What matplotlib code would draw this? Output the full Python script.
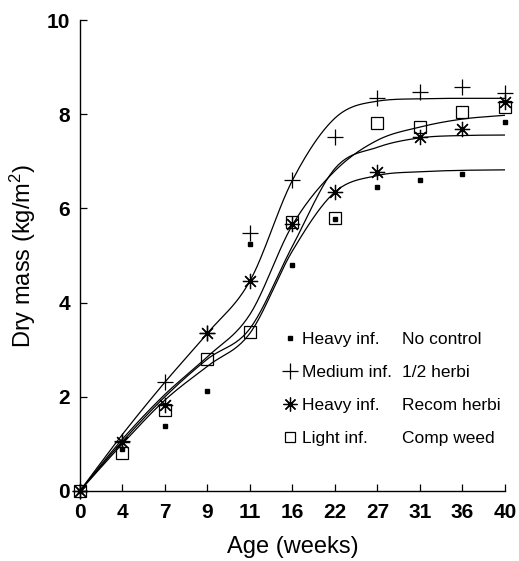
import numpy as np
import matplotlib
matplotlib.use('Agg')
import matplotlib.pyplot as plt
from matplotlib.lines import Line2D

plt.rcParams['font.family'] = ['Liberation Sans', 'DejaVu Sans']
plt.rcParams['mathtext.fontset'] = 'custom'
plt.rcParams['mathtext.rm'] = 'Liberation Sans'
plt.rcParams['mathtext.it'] = 'Liberation Sans:italic'

# sampling ages (weeks) -- plotted on an evenly spaced category axis
ages = [0, 4, 7, 9, 11, 16, 22, 27, 31, 36, 40]

# observed dry mass (kg/m2)
no_control = [0.0, 0.9, 1.38, 2.12, 5.24, 4.79, 5.77, 6.45, 6.60, 6.73, 7.83]
half_herbi = [0.0, 1.05, 2.31, 3.35, 5.48, 6.60, 7.52, 8.34, 8.47, 8.58, 8.45]
recom_herbi = [0.0, 1.04, 1.82, 3.35, 4.46, 5.67, 6.35, 6.77, 7.52, 7.68, 8.26]
comp_weed = [0.0, 0.80, 1.72, 2.80, 3.38, 5.71, 5.80, 7.82, 7.73, 8.05, 8.16]

# fitted growth curves evaluated at each sampling age
fit_no_control = [0.0, 1.0, 1.93, 2.65, 3.35, 5.10, 6.35, 6.70, 6.78, 6.81, 6.82]
fit_half_herbi = [0.0, 1.2, 2.31, 3.35, 4.46, 6.60, 7.92, 8.28, 8.33, 8.34, 8.34]
fit_recom_herbi = [0.0, 1.05, 2.0, 2.80, 3.45, 5.20, 6.85, 7.30, 7.50, 7.55, 7.56]
fit_comp_weed = [0.0, 1.1, 2.05, 2.85, 3.75, 5.65, 6.80, 7.45, 7.73, 7.90, 7.98]

col1 = ['Heavy inf.', 'Medium inf.', 'Heavy inf.', 'Light inf.']
col2 = ['No control', '1/2 herbi', 'Recom herbi', 'Comp weed']


def smooth(xk, yk, n=24):
    """Cubic Hermite through the curve knots, averaged slopes limited to stay monotone."""
    xk = np.asarray(xk, float)
    yk = np.asarray(yk, float)
    h = np.diff(xk)
    d = np.diff(yk) / h
    m = np.zeros_like(yk)
    m[0], m[-1] = d[0], d[-1]
    m[1:-1] = (d[:-1] + d[1:]) / 2
    for i in range(len(d)):
        if d[i] == 0:
            m[i] = m[i + 1] = 0
            continue
        a, b = m[i] / d[i], m[i + 1] / d[i]
        s = a * a + b * b
        if s > 9:
            t = 3 / np.sqrt(s)
            m[i], m[i + 1] = t * a * d[i], t * b * d[i]
    xs, ys = [], []
    for i in range(len(h)):
        t = np.linspace(0, 1, n, endpoint=(i == len(h) - 1))
        h00 = 2 * t**3 - 3 * t**2 + 1
        h10 = t**3 - 2 * t**2 + t
        h01 = -2 * t**3 + 3 * t**2
        h11 = t**3 - t**2
        xs.append(xk[i] + t * h[i])
        ys.append(h00 * yk[i] + h10 * h[i] * m[i] + h01 * yk[i + 1] + h11 * h[i] * m[i + 1])
    return np.concatenate(xs), np.concatenate(ys)


x = np.arange(len(ages))
asterisk = (8, 2, 0)

fig = plt.figure(figsize=(5.19, 5.61), dpi=100)
ax = fig.add_axes([0.154, 0.125, 0.819, 0.839])

for fit in (fit_no_control, fit_half_herbi, fit_recom_herbi, fit_comp_weed):
    xs, ys = smooth(x, fit)
    ax.plot(xs, ys, color='black', lw=0.9)

kw = dict(linestyle='none', color='black', clip_on=False)
ax.plot(x, no_control, marker='s', markersize=2.6, **kw)
ax.plot(x, half_herbi, marker='+', markersize=12, markeredgewidth=0.9, **kw)
ax.plot(x, recom_herbi, marker=asterisk, markersize=11, markeredgewidth=0.9, **kw)
ax.plot(x, comp_weed, marker='s', markersize=8.5, markerfacecolor='none',
        markeredgewidth=0.9, **kw)

handles = [
    Line2D([], [], marker='s', markersize=2.6, color='black', linestyle='none'),
    Line2D([], [], marker='+', markersize=12, markeredgewidth=0.9, color='black', linestyle='none'),
    Line2D([], [], marker=asterisk, markersize=10, markeredgewidth=0.9, color='black', linestyle='none'),
    Line2D([], [], marker='s', markersize=7, markerfacecolor='none', markeredgewidth=0.9,
           color='black', linestyle='none'),
]
blank = [Line2D([], [], linestyle='none') for _ in col2]
leg = ax.legend(handles + blank, col1 + col2, ncol=2, frameon=False, fontsize=12.5,
                loc='upper left', bbox_to_anchor=(0.46, 0.352), handlelength=0.9,
                handletextpad=0.25, columnspacing=-0.6, labelspacing=1.03,
                borderaxespad=0)

ax.set_xlim(0, 10)
ax.set_ylim(0, 10)
ax.set_xticks(x)
ax.set_xticklabels([str(a) for a in ages], fontsize=15, fontweight='bold')
ax.set_yticks(range(0, 11, 2))
ax.set_yticklabels([str(v) for v in range(0, 11, 2)], fontsize=15, fontweight='bold')
ax.tick_params(direction='in', length=5, width=0.9, color='black')
ax.tick_params(axis='x', pad=9)
ax.tick_params(axis='y', pad=7)
ax.spines['top'].set_visible(False)
ax.spines['right'].set_visible(False)
for s in ('left', 'bottom'):
    ax.spines[s].set_linewidth(1.0)
ax.set_xlabel('Age (weeks)', fontsize=17, labelpad=10)
ax.set_ylabel('Dry mass (kg/m$^2$)', fontsize=17, labelpad=6)

fig.savefig('out.png', dpi=100)
